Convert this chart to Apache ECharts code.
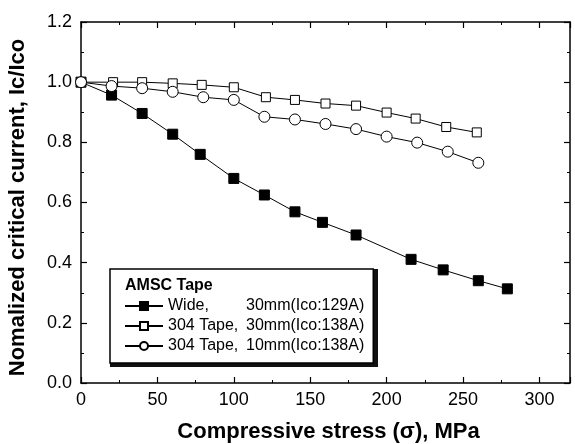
<!DOCTYPE html>
<html><head><meta charset="utf-8">
<script src="https://cdn.jsdelivr.net/npm/echarts@6/dist/echarts.min.js"></script>
<style>html,body{margin:0;padding:0;background:#fff}#c{width:575px;height:444px}</style>
</head><body><div id="c"></div>
<script>
var wideX = [0, 20, 40, 60, 78, 100, 120, 140, 158, 180, 216, 237, 260, 279];
var wideY = [1.0, 0.957, 0.896, 0.827, 0.760, 0.680, 0.625, 0.569, 0.534, 0.492, 0.411, 0.376, 0.340, 0.313];
var tape30X = [0, 21, 40, 60, 79, 100, 121, 140, 160, 180, 200, 219, 239, 259];
var tape30Y = [1.0, 1.0, 1.0, 0.996, 0.991, 0.983, 0.950, 0.941, 0.929, 0.922, 0.899, 0.879, 0.851, 0.833];
var tape10X = [0, 20, 40, 60, 80, 100, 120, 140, 160, 180, 200, 220, 240, 260];
var tape10Y = [1.0, 0.987, 0.980, 0.968, 0.950, 0.941, 0.885, 0.876, 0.861, 0.844, 0.819, 0.799, 0.769, 0.732];
var seriesNames = ['Wide', '304 Tape, 30mm', '304 Tape, 10mm'];
var legendLeft = ['Wide,', '304 Tape,', '304 Tape,'];
var legendRight = ['30mm(Ico:129A)', '30mm(Ico:138A)', '10mm(Ico:138A)'];
var legendTitle = 'AMSC Tape';
var xTitle = 'Compressive stress (\u03c3), MPa';
var yTitle = 'Nomalized critical current, Ic/Ico';

function pairs(xs, ys) { return xs.map(function (x, i) { return [x, ys[i]]; }); }

var font = 'Liberation Sans, Arial, sans-serif';
var chart = echarts.init(document.getElementById('c'), null, {renderer: 'canvas'});

function axisCommon() {
  return {
    axisLine: {show: true, onZero: false, lineStyle: {color: '#000', width: 1.5}},
    axisTick: {show: true, inside: true, length: 6, lineStyle: {color: '#000', width: 1.2}},
    minorTick: {show: true, splitNumber: 2, length: 3, lineStyle: {color: '#000', width: 1}},
    splitLine: {show: false}
  };
}

function mk(name, data, symbol, filled, size) {
  return {
    name: name, type: 'line', data: data, symbol: symbol, symbolSize: size,
    showSymbol: true, animation: false,
    lineStyle: {color: '#000', width: 1},
    itemStyle: {color: filled ? '#000' : '#fff', borderColor: '#000', borderWidth: 1},
    z: 3
  };
}

var option = {
  backgroundColor: '#fff',
  animation: false,
  grid: {left: 81, right: 5, top: 22, bottom: 61, outerBoundsMode: 'none', containLabel: false},
  xAxis: [
    Object.assign(axisCommon(), {
      type: 'value', min: 0, max: 320, interval: 50,
      name: xTitle, nameLocation: 'middle', nameGap: 38,
      nameTextStyle: {fontFamily: font, fontWeight: 'bold', fontSize: 22, color: '#000', padding: [0, 0, 0, 6]},
      axisLabel: {fontFamily: font, fontSize: 18, color: '#000', margin: 8,
        formatter: function (v) { return v > 300 ? '' : v; }}
    }),
    Object.assign(axisCommon(), {
      type: 'value', min: 0, max: 320, interval: 50, position: 'top',
      axisLabel: {show: false}
    })
  ],
  yAxis: [
    Object.assign(axisCommon(), {
      type: 'value', min: 0, max: 1.2, interval: 0.2,
      name: yTitle, nameLocation: 'middle', nameGap: 52, nameRotate: 90,
      nameTextStyle: {fontFamily: font, fontWeight: 'bold', fontSize: 22, color: '#000', padding: [0, 10, 0, 0]},
      axisLabel: {fontFamily: font, fontSize: 18, color: '#000', margin: 9,
        formatter: function (v) { return v.toFixed(1); }}
    }),
    Object.assign(axisCommon(), {
      type: 'value', min: 0, max: 1.2, interval: 0.2, position: 'right',
      axisLabel: {show: false}
    })
  ],
  legend: {
    show: true, orient: 'vertical', left: 110, top: 269, itemGap: 4,
    padding: [29, 9, 9, 14],
    backgroundColor: '#fff', borderColor: '#000', borderWidth: 1.5,
    itemWidth: 38, itemHeight: 10, z: 10,
    data: seriesNames,
    textStyle: {fontFamily: font, fontSize: 16, color: '#000',
      rich: {a: {width: 78, fontFamily: font, fontSize: 16, color: '#000'},
             b: {fontFamily: font, fontSize: 16, color: '#000'}}},
    formatter: function (n) {
      var i = seriesNames.indexOf(n);
      return '{a|' + legendLeft[i] + '}{b|' + legendRight[i] + '}';
    }
  },
  graphic: {
    elements: [
      {type: 'rect', id: 'shadowFrame', z: 5, shape: {x: 112.5, y: 271.5, width: 263, height: 93},
        style: {fill: 'none', stroke: '#111', lineWidth: 5}},
      {type: 'text', id: 'ttl', z: 20, x: 125, y: 286,
        style: {text: legendTitle, font: 'bold 16px ' + font, fill: '#000', verticalAlign: 'middle'}}
    ]
  },
  series: [
    mk(seriesNames[0], pairs(wideX, wideY), 'rect', true, 10),
    mk(seriesNames[1], pairs(tape30X, tape30Y), 'rect', false, 9),
    mk(seriesNames[2], pairs(tape10X, tape10Y), 'circle', false, 11)
  ]
};
chart.setOption(option);
</script></body></html>
